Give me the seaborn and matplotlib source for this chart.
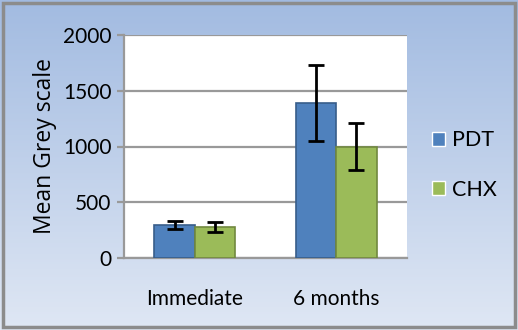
import numpy as np
import pandas as pd
import matplotlib
matplotlib.use("Agg")
import matplotlib.pyplot as plt
import seaborn as sns
from matplotlib.patches import Rectangle

categories = ["Immediate", "6 months"]
groups = ["PDT", "CHX"]
pdt_values = [295, 1390]
chx_values = [280, 1000]
pdt_err = [38, 345]
chx_err = [45, 210]
yticks = [0, 500, 1000, 1500, 2000]

sns.set_theme(style="white")
plt.rcParams['font.family'] = ['Lato', 'DejaVu Sans']
plt.rcParams['text.color'] = 'black'
plt.rcParams['xtick.color'] = 'black'
plt.rcParams['ytick.color'] = 'black'
plt.rcParams['axes.labelcolor'] = 'black'

df = pd.DataFrame({
    "Time": categories * 2,
    "Group": [groups[0]] * 2 + [groups[1]] * 2,
    "Value": pdt_values + chx_values,
    "Err": pdt_err + chx_err,
})

W, H = 518, 330
fig = plt.figure(figsize=(W / 100, H / 100), dpi=100)

# gradient background
bg = fig.add_axes([0, 0, 1, 1], zorder=-10)
top = np.array([0.635, 0.733, 0.882])
bot = np.array([0.875, 0.906, 0.957])
t = np.linspace(0, 1, 200)[:, None]
grad = (top[None, :] * (1 - t) + bot[None, :] * t)[:, None, :]
bg.imshow(grad, aspect="auto", extent=[0, 1, 0, 1])
bg.add_patch(Rectangle((3 / W, 3 / H), 512 / W, 324 / H, fill=False,
                       edgecolor="#8c8c8c", linewidth=2.5, transform=bg.transAxes))
bg.set_xlim(0, 1); bg.set_ylim(0, 1)
bg.axis("off")

ax = fig.add_axes([124 / W, 1 - 258 / H, (407 - 124) / W, (258 - 35) / H])
ax.set_facecolor("white")
palette = {"PDT": "#4f81bd", "CHX": "#9bbb59"}
sns.barplot(data=df, x="Time", y="Value", hue="Group", hue_order=groups,
            order=categories, palette=palette, errorbar=None, width=0.57,
            ax=ax, saturation=1, zorder=3)

edge = {"PDT": "#385d8a", "CHX": "#71893f"}
for container, g in zip(ax.containers, groups):
    sub = df[df.Group == g].set_index("Time").loc[categories]
    for bar, err in zip(container, sub["Err"].values):
        bar.set_edgecolor(edge[g])
        bar.set_linewidth(1.2)
        xc = bar.get_x() + bar.get_width() / 2
        ax.errorbar(xc, bar.get_height(), yerr=err, fmt="none", ecolor="black",
                    elinewidth=2, capsize=6, capthick=2, zorder=5)

ax.set_xlim(-0.5, 1.5)
ax.set_ylim(0, 2000)
ax.set_yticks(yticks)
ax.yaxis.grid(True, color="#999999", linewidth=1.6, zorder=0)
ax.set_axisbelow(True)
for s in ["top", "right"]:
    ax.spines[s].set_visible(False)
ax.spines["left"].set_color("#999999")
ax.spines["left"].set_linewidth(1.6)
ax.spines["bottom"].set_color("#999999")
ax.spines["bottom"].set_linewidth(1.6)
ax.tick_params(axis="y", length=5, width=1.6, color="#999999", direction="out",
               labelsize=15, pad=4, left=True)
ax.tick_params(axis="x", length=0, labelsize=15, pad=22)
ax.set_xlabel("")
ax.set_ylabel("Mean Grey scale", fontsize=16.5, family=["Open Sans", "DejaVu Sans"],
              labelpad=4)

handles, labels = ax.get_legend_handles_labels()
ax.legend_.remove()
fig.legend(handles, labels, loc="center left", bbox_to_anchor=(413 / W, 0.5),
           frameon=False, fontsize=15.5, labelspacing=1.35, handlelength=0.6,
           handleheight=0.6, handletextpad=0.3)

fig.savefig("out.png", dpi=100)
